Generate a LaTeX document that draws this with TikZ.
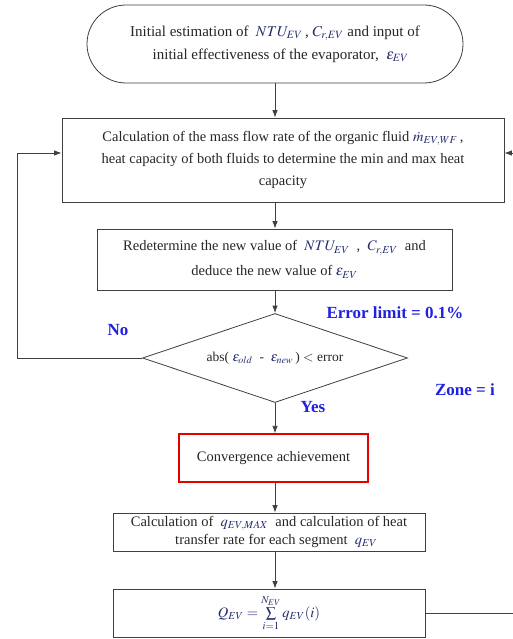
\documentclass[tikz,border=0pt]{standalone}
\usepackage{mathptmx}
\usepackage{fontspec}
\setmainfont{Liberation Serif}
\usetikzlibrary{shapes.geometric,arrows.meta}
\definecolor{tagblue}{RGB}{32,32,224}
\definecolor{mathblue}{RGB}{36,44,110}
\definecolor{linegray}{RGB}{64,64,64}
\newcommand{\mq}[1]{\textcolor{mathblue}{$#1$}}

\begin{document}
\begin{tikzpicture}[x=1pt, y=-1pt, font=\fontsize{14.5}{22}\selectfont, every node/.style={align=center, text=black!85, inner sep=0pt}, box/.style={draw=linegray, line width=0.8pt, fill=white}, flow/.style={draw=linegray, line width=0.8pt, -{Latex[length=7.5pt,width=5.5pt]}}, link/.style={draw=linegray, line width=0.8pt}, tag/.style={text=tagblue, font=\fontsize{17}{20}\selectfont\bfseries}]
    \useasboundingbox (0,0) rectangle (513,639);
    \node[box, rounded corners=39pt, minimum width=376pt, minimum height=78pt, font=\fontsize{15}{23}\selectfont] (init) at (275,44) {Initial estimation of \ \mq{NTU_{EV}}\,,\ \mq{C_{r,EV}} and input of\\ \ \ \ initial effectiveness of the evaporator, \ \mq{\varepsilon_{EV}}};
    \node[box, minimum width=442pt, minimum height=84pt] (mass) at (283,160) {Calculation of the mass flow rate of the organic fluid \mq{\dot{m}_{EV,WF}}\,,\\ heat capacity of both fluids to determine the min and max heat\\ capacity};
    \node[box, minimum width=355pt, minimum height=61pt, font=\fontsize{14.5}{25}\selectfont] (redo) at (274.5,259.5) {Redetermine the new value of \ \mq{NTU_{EV}} \ , \ \mq{C_{r,EV}} \ and\\ deduce the new value of \mq{\varepsilon_{EV}}};
    \node[box, diamond, shape aspect=3, minimum width=265pt, minimum height=89pt, font=\fontsize{13.5}{15}\selectfont] (check) at (275,358) {abs( \mq{\varepsilon_{old}} \ - \ \mq{\varepsilon_{new}}\,) $<$ error};
    \node[box, draw=red!90!black, line width=1.3pt, minimum width=189pt, minimum height=48pt] (conv) at (273.5,458) {Convergence achievement};
    \node[box, minimum width=312pt, minimum height=38pt, font=\fontsize{14.5}{18}\selectfont] (qmax) at (269,532) {Calculation of \ \mq{q_{EV,MAX}} \ and calculation of heat\\ \ \ \ \ transfer rate for each segment \ \mq{q_{EV}}};
    \node[box, minimum width=312pt, minimum height=48pt] (total) at (269,613) {\mq{Q_{EV}=\sum\limits_{i=1}^{N_{EV}} q_{EV}(i)}};
    \node[tag] (no) at (118,330) {No};
    \node[tag] (limit) at (395,313) {Error limit = 0.1\%};
    \node[tag] (zone) at (465,390) {Zone = i};
    \node[tag] (yes) at (313,407) {Yes};
    \coordinate (back) at (17,358);
    \coordinate (inright) at (513,153);
    \coordinate (outright) at (513,613);
    \draw[flow] (init.south) -- (init.south |- mass.north);
    \draw[flow] (init.south |- mass.south) -- (init.south |- redo.north);
    \draw[flow] (init.south |- redo.south) -- (check.north);
    \draw[flow] (check.south) -- (check.south |- conv.north);
    \draw[flow] (check.south |- conv.south) -- (check.south |- qmax.north);
    \draw[flow] (check.south |- qmax.south) -- (check.south |- total.north);
    \draw[flow] (check.west) -- (back) |- (mass.west |- inright);
    \draw[flow] (inright) -- (mass.east |- inright);
    \draw[link] (total.east) -- (outright);
\end{tikzpicture}
\end{document}
